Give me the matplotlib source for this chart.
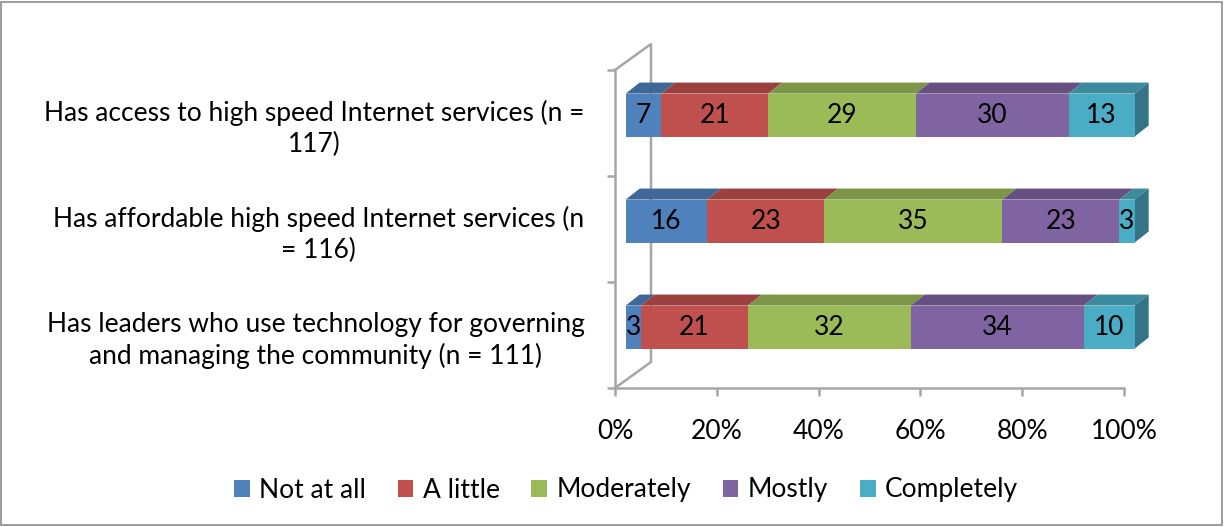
import matplotlib
matplotlib.use("Agg")
import matplotlib.pyplot as plt
import numpy as np
from matplotlib.patches import Polygon, Rectangle, Patch
from matplotlib.colors import to_rgb

plt.rcParams['font.family'] = ['Lato', 'DejaVu Sans']

# Survey items, bottom row first
items = [
    "Has leaders who use technology for governing\nand managing the community (n = 111)",
    "Has affordable high speed Internet services (n\n= 116)",
    "Has access to high speed Internet services (n =\n117)",
]
levels = ["Not at all", "A little", "Moderately", "Mostly", "Completely"]
not_at_all = [3, 16, 7]
a_little = [21, 23, 21]
moderately = [32, 35, 29]
mostly = [34, 23, 30]
completely = [10, 3, 13]
colors = ["#4F81BD", "#C0504D", "#9BBB59", "#8064A2", "#4BACC6"]
x_ticks = [0, 20, 40, 60, 80, 100]

W, H = 1226, 527
fig = plt.figure(figsize=(W / 100, H / 100), dpi=100)
ax = fig.add_axes([615 / W, 1 - 388 / H, 509 / W, 318 / H])
ax.set_xlim(0, 100)
ax.set_ylim(0, 3)

grey = "#A6A6A6"
fs = 19
# fake 3d depth (data units)
wall_dx, wall_dy = 7.07, 0.245
front_dx, front_dy = 2.1, 0.075
bar_dx, bar_dy = 2.75, 0.104
bar_h = 0.405

# side wall outline
ax.plot([0, wall_dx, wall_dx, 0], [3, 3 + wall_dy, wall_dy, 0], color=grey,
        lw=1.8, clip_on=False, zorder=1)

series = np.array([not_at_all, a_little, moderately, mostly, completely], dtype=float)
ypos = np.arange(len(items)) + 0.5

def shade(c, f):
    return tuple(v * f for v in to_rgb(c))

left = np.zeros(len(items))
for k, (vals, col) in enumerate(zip(series, colors)):
    lefts = left + front_dx
    ax.barh(ypos + front_dy, vals, left=lefts, height=bar_h, color=col,
            zorder=3, clip_on=False)
    for i, (l, v) in enumerate(zip(lefts, vals)):
        yt = ypos[i] + front_dy + bar_h / 2
        top = Polygon([(l, yt), (l + v, yt), (l + v + bar_dx, yt + bar_dy),
                       (l + bar_dx, yt + bar_dy)], closed=True,
                      facecolor=shade(col, 0.8), edgecolor='none', zorder=2,
                      clip_on=False)
        ax.add_patch(top)
        if k == len(series) - 1:
            r = l + v
            yb = yt - bar_h
            side = Polygon([(r, yb), (r, yt), (r + bar_dx, yt + bar_dy),
                            (r + bar_dx, yb + bar_dy)], closed=True,
                           facecolor=shade(col, 0.68), edgecolor='none',
                           zorder=2, clip_on=False)
            ax.add_patch(side)
        ax.text(l + v / 2, ypos[i] + front_dy, f"{int(v)}", ha='center',
                va='center', fontsize=fs, color='black', zorder=4)
    left = left + vals

for s in ['top', 'right']:
    ax.spines[s].set_visible(False)
for s in ['left', 'bottom']:
    ax.spines[s].set_color(grey)
    ax.spines[s].set_linewidth(1.8)

ax.set_xticks(x_ticks)
ax.set_xticklabels([f"{t}%" for t in x_ticks])
ax.set_yticks([0, 1, 2, 3])
ax.set_yticklabels([])
ax.set_yticks(ypos, minor=True)
ax.set_yticklabels(items, minor=True, multialignment='center', linespacing=1.3)
ax.tick_params(axis='y', which='minor', length=0, pad=22, labelsize=fs)
ax.tick_params(axis='both', which='major', length=6, width=1.8, color=grey,
               labelsize=fs, pad=13)
ax.tick_params(axis='x', which='major', pad=16)
ax.set_facecolor('none')

handles = [Patch(facecolor=c, edgecolor='none') for c in colors]
fig.legend(handles, levels, loc='center', bbox_to_anchor=(626 / W, 1 - 490 / H),
           ncol=5, frameon=False, fontsize=fs, handlelength=0.6,
           handleheight=0.6, handletextpad=0.35, columnspacing=1.2)

fig.patches.append(Rectangle((0.001, 0.003), 0.996, 0.993, transform=fig.transFigure,
                             fill=False, edgecolor='#8C8C8C', lw=1.2))

fig.savefig("out.png", dpi=100)
